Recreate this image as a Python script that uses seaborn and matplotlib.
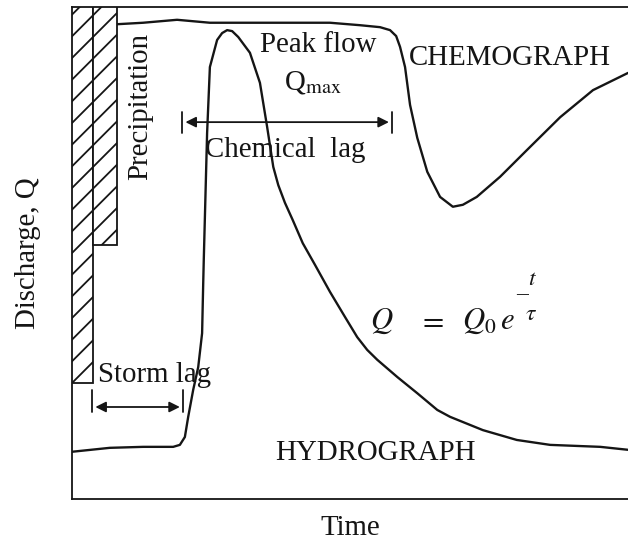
import matplotlib
matplotlib.use("Agg")
import matplotlib.pyplot as plt
import seaborn as sns
import pandas as pd

# Hydrograph: discharge vs time (time and discharge in relative units, 0-100)
hydro_time = [0, 6.8, 12.8, 18.2, 19.4, 20.3, 20.9, 21.8, 22.7, 23.4, 23.6, 23.7,
              24.3, 24.8, 26.1, 27.0, 27.9, 28.8, 29.9, 32.0, 33.8, 35.1, 36.2,
              37.1, 38.3, 39.7, 41.5, 43.7, 46.4, 49.1, 51.3, 53.1, 54.9, 58.5,
              62.1, 65.7, 68.0, 73.9, 80.0, 86.0, 95.0, 100]
hydro_q = [9.6, 10.4, 10.6, 10.6, 11.0, 12.6, 16.7, 22.2, 26.8, 33.7, 43.9, 48.6,
           74.4, 87.8, 93.3, 94.7, 95.3, 95.1, 93.9, 90.7, 84.6, 75.6, 67.5,
           63.8, 60.2, 56.7, 52.0, 47.6, 42.1, 37.0, 32.9, 30.3, 28.3, 24.8,
           21.5, 18.1, 16.7, 14.0, 12.0, 11.0, 10.6, 10.0]

# Chemograph: solute concentration vs time
chemo_time = [8.1, 12.8, 18.9, 24.8, 30.2, 37.4, 46.4, 51.8, 55.4, 57.2, 58.3,
              59.0, 59.9, 60.8, 62.1, 63.9, 66.2, 68.5, 70.3, 72.8, 77.0, 81.8,
              87.8, 93.7, 100]
chemo_c = [96.5, 96.8, 97.4, 96.8, 96.8, 96.8, 96.8, 96.3, 95.9, 95.3, 94.1,
           91.9, 87.8, 80.1, 73.4, 66.5, 61.4, 59.4, 59.8, 61.4, 65.5, 70.9,
           77.6, 83.1, 86.6]

# Precipitation bars hanging from the top of the frame
precip_start = [0.0, 3.8]
precip_width = [3.8, 4.3]
precip_depth = [76.4, 48.4]

# Lag intervals (start, end) on the time axis
storm_lag = (3.6, 20.0)
chemical_lag = (19.8, 57.6)

sns.set_style("white")
plt.rcParams["font.family"] = ["Liberation Serif", "DejaVu Serif"]
plt.rcParams["mathtext.fontset"] = "stix"

DPI = 130
fig = plt.figure(figsize=(628 / DPI, 546 / DPI), dpi=DPI)
ax = fig.add_axes([72 / 628, 1 - 499 / 546, 556 / 628, 492 / 546])

ink = "#151515"
lw = 1.3

hydro = pd.DataFrame({"time": hydro_time, "q": hydro_q})
chemo = pd.DataFrame({"time": chemo_time, "c": chemo_c})
sns.lineplot(data=hydro, x="time", y="q", ax=ax, color=ink, lw=lw,
             sort=False, estimator=None)
sns.lineplot(data=chemo, x="time", y="c", ax=ax, color=ink, lw=lw,
             sort=False, estimator=None)

ax.bar(precip_start, precip_depth, width=precip_width,
       bottom=[100 - d for d in precip_depth], align="edge",
       facecolor="white", edgecolor=ink, hatch="//", linewidth=1.0, zorder=3)

ax.set_xlim(0, 100)
ax.set_ylim(0, 100)
ax.set_xticks([])
ax.set_yticks([])
for side in ("left", "bottom", "top"):
    ax.spines[side].set_color(ink)
    ax.spines[side].set_linewidth(1.0)
ax.spines["right"].set_visible(False)

ax.set_xlabel("Time", fontsize=16, color=ink, labelpad=9)
ax.set_ylabel("Discharge, Q", fontsize=16, color=ink, labelpad=17)


def lag_arrow(x0, x1, y, bar_lo, bar_hi):
    ax.annotate("", xy=(x1 - 0.6, y), xytext=(x0 + 0.6, y),
                arrowprops=dict(arrowstyle="<|-|>", color=ink, lw=1.0,
                                mutation_scale=12, shrinkA=0, shrinkB=0))
    ax.plot([x0, x0], [y - bar_lo, y + bar_hi], color=ink, lw=1.0)
    ax.plot([x1, x1], [y - bar_lo, y + bar_hi], color=ink, lw=1.0)


lag_arrow(chemical_lag[0], chemical_lag[1], 76.6, 2.3, 2.1)
lag_arrow(storm_lag[0], storm_lag[1], 18.7, 1.0, 3.5)

txt = dict(fontsize=16, color=ink)
ax.text(12.2, 79.7, "Precipitation", rotation=90, ha="center", va="center", **txt)
ax.text(44.2, 92.3, "Peak flow", ha="center", va="center", **txt)
ax.text(43.3, 84.6, r"Q$_{\mathrm{max}}$", ha="center", va="center", **txt)
ax.text(38.3, 71.0, "Chemical  lag", ha="center", va="center", **txt)
ax.text(78.8, 89.6, "CHEMOGRAPH", ha="center", va="center", **txt)
ax.text(4.7, 25.2, "Storm lag", ha="left", va="center", **txt)
ax.text(54.5, 9.4, "HYDROGRAPH", ha="center", va="center", **txt)

# Recession equation Q = Q0 exp(-t/tau)
eq = dict(fontsize=17, color=ink, va="baseline", ha="left")
ax.text(53.6, 34.6, r"$Q$", **eq)
ax.text(62.2, 34.6, r"$=$", **eq)
ax.text(70.1, 34.6, r"$Q_0\,e$", **eq)
ax.text(80.9, 41.5, "\u2013", fontsize=13, color=ink, ha="center", va="center")
ax.text(82.9, 44.6, r"$t$", fontsize=13, color=ink, ha="center", va="center")
ax.text(82.5, 37.6, r"$\tau$", fontsize=13, color=ink, ha="center", va="center")

fig.savefig("out.png", dpi=DPI, facecolor="white")
